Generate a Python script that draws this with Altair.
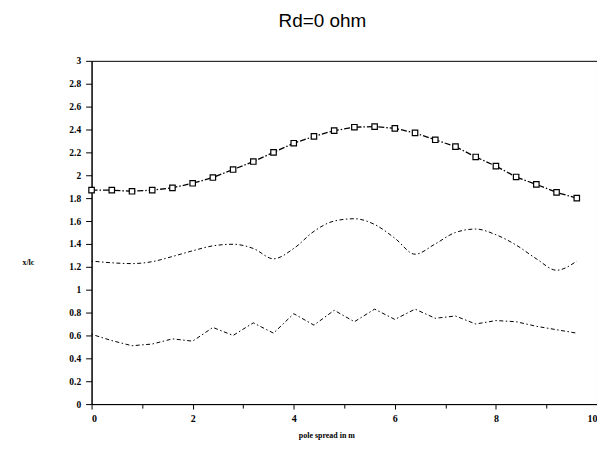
import altair as alt
import pandas as pd

xs = [round(0.4 * i, 1) for i in range(25)]

series_top = [1.87, 1.87, 1.86, 1.87, 1.89, 1.93, 1.98, 2.05, 2.12, 2.20, 2.28, 2.34, 2.39,
              2.42, 2.425, 2.41, 2.37, 2.31, 2.25, 2.16, 2.08, 1.985, 1.92, 1.85, 1.80]
series_mid = [1.25, 1.235, 1.228, 1.245, 1.29, 1.34, 1.383, 1.397, 1.36, 1.27, 1.36, 1.51, 1.60,
              1.62, 1.57, 1.45, 1.31, 1.40, 1.50, 1.53, 1.48, 1.39, 1.27, 1.17, 1.25]
series_low = [0.61, 0.555, 0.51, 0.525, 0.57, 0.55, 0.67, 0.60, 0.71, 0.62, 0.79, 0.69, 0.82,
              0.72, 0.83, 0.74, 0.83, 0.75, 0.77, 0.70, 0.73, 0.72, 0.68, 0.65, 0.62]

x_major = [0, 2, 4, 6, 8, 10]
x_minor = [1, 3, 5, 7, 9]
y_ticks = [0, 0.2, 0.4, 0.6, 0.8, 1, 1.2, 1.4, 1.6, 1.8, 2, 2.2, 2.4, 2.6, 2.8, 3]

df_top = pd.DataFrame({"x": xs, "y": series_top})
df_mid = pd.DataFrame({"x": xs, "y": series_mid})
df_low = pd.DataFrame({"x": xs, "y": series_low})

LF = "Liberation Serif"

xscale = alt.Scale(domain=[0, 10], nice=False, zero=False)
yscale = alt.Scale(domain=[0, 3], nice=False)

x_main = alt.X("x:Q", scale=xscale, axis=alt.Axis(
    orient="bottom", values=x_major, format="d", title="pole spread in m", grid=False,
    labelFont=LF, labelFontWeight="bold", labelFontSize=10, labelColor="black",
    tickColor="black", domainColor="black", tickSize=5, labelPadding=4,
    titleFont=LF, titleFontWeight="bold", titleFontSize=8, titleColor="black",
    titleX=236, titleY=32, titleAlign="center", titleBaseline="middle"))
x_minor_axis = alt.X("x:Q", scale=xscale, axis=alt.Axis(
    orient="bottom", values=x_minor, labels=False, title=None, grid=False, domain=False,
    tickColor="black", tickSize=4, tickWidth=1))
y_main = alt.Y("y:Q", scale=yscale, axis=alt.Axis(
    orient="left", values=y_ticks, format=".2~f", title="x/lc", grid=False,
    labelFont=LF, labelFontWeight="bold", labelFontSize=9.5, labelColor="black",
    tickColor="black", domainColor="black", tickSize=6, labelPadding=5,
    titleFont=LF, titleFontWeight="bold", titleFontSize=8, titleColor="black",
    titleAngle=0, titleX=-64, titleY=203, titleAlign="center", titleBaseline="middle"))

x_plain = alt.X("x:Q", scale=xscale, axis=None)
y_plain = alt.Y("y:Q", scale=yscale, axis=None)

top_line = alt.Chart(df_top).mark_line(
    color="black", strokeWidth=1.3, strokeDash=[6, 2, 1.5, 2]
).encode(x=x_main, y=y_main)
top_pts = alt.Chart(df_top).mark_point(
    shape="square", size=30, filled=True, fill="white", stroke="black", strokeWidth=1.2, opacity=1
).encode(x=x_plain, y=y_plain)
mid_line = alt.Chart(df_mid).mark_line(
    color="black", strokeWidth=1.0, strokeDash=[1.5, 2.5, 4, 2.5], interpolate="monotone"
).encode(x=x_plain, y=y_plain)
low_line = alt.Chart(df_low).mark_line(
    color="black", strokeWidth=1.0, strokeDash=[1.5, 2.5, 4, 2.5]
).encode(x=x_plain, y=y_plain)
minor = alt.Chart(df_top).mark_point(opacity=0).encode(
    x=x_minor_axis, y=y_plain)

chart = alt.layer(top_line, top_pts, mid_line, low_line, minor).resolve_axis(
    x="independent", y="independent"
).properties(
    width=508, height=345,
    autosize=alt.AutoSizeParams(type="none"),
    padding={"left": 84, "top": 52, "right": 0, "bottom": 39},
    title=alt.TitleParams("Rd=0 ohm", font="Liberation Sans", fontSize=19,
                          fontWeight="normal", color="black", anchor="middle",
                          frame="group", dx=-22, offset=25),
    background="white",
).configure_view(stroke="black", strokeWidth=1)

chart.save("out.html", embed_options={"renderer": "svg", "actions": False})
